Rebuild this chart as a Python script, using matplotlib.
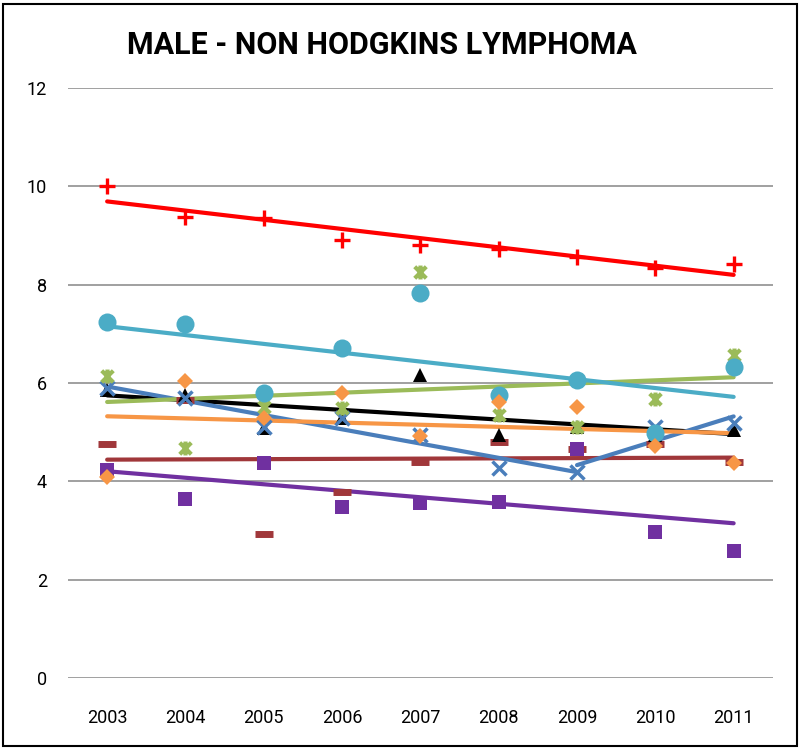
import numpy as np
import matplotlib
matplotlib.use("Agg")
import matplotlib.pyplot as plt
from matplotlib.path import Path
from matplotlib.patches import Rectangle

# ---------------- data ----------------
years = ['2003', '2004', '2005', '2006', '2007', '2008', '2009', '2010', '2011']
red_plus      = [10.00, 9.38, 9.35, 8.90, 8.81, 8.72, 8.56, 8.34, 8.42]
cyan_circle   = [7.24, 7.20, 5.80, 6.71, 7.83, 5.76, 6.06, 4.98, 6.32]
green_star    = [6.14, 4.68, 5.50, 5.49, 8.26, 5.35, 5.11, 5.67, 6.57]
black_tri     = [5.85, 5.75, 5.08, 5.29, 6.16, 4.94, 5.10, 4.95, 5.05]
orange_dia    = [4.09, 6.04, 5.29, 5.79, 4.92, 5.61, 5.51, 4.72, 4.37]
blue_x        = [5.90, 5.69, 5.10, 5.29, 4.95, 4.27, 4.19, 5.10, 5.18]
brown_dash    = [4.76, 5.66, 2.93, 3.78, 4.40, 4.80, 4.66, 4.75, 4.40]
purple_square = [4.23, 3.64, 4.37, 3.48, 3.56, 3.58, 4.66, 2.97, 2.58]
yticks = [0, 2, 4, 6, 8, 10, 12]
title = 'MALE - NON HODGKINS LYMPHOMA'

# asterisk-like marker (X with vertical bar)
star_path = Path([(-1, -1), (1, 1), (-1, 1), (1, -1), (0, -1.2), (0, 1.2)],
                 [Path.MOVETO, Path.LINETO, Path.MOVETO, Path.LINETO,
                  Path.MOVETO, Path.LINETO])

# (values, colour, marker, size, edgewidth, filled, trend segments)
series = [
    (brown_dash,    '#A0373A', '_',       13, 5.0, False, [(0, 9)]),
    (black_tri,     '#000000', '^',       10, 0.0, True,  [(0, 9)]),
    (blue_x,        '#4A7EBB', 'x',       10, 2.5, False, [(0, 7), (6, 9)]),
    (green_star,    '#9BBB59', star_path, 10, 3.0, False, [(0, 9)]),
    (cyan_circle,   '#4BACC6', 'o',       13, 0.0, True,  [(0, 9)]),
    (purple_square, '#7030A0', 's',       9.5, 0.0, True, [(0, 9)]),
    (orange_dia,    '#F79646', 'D',       8.5, 0.0, True, [(0, 9)]),
    (red_plus,      '#FF0000', '+',       11, 2.4, False, [(0, 9)]),
]

fig = plt.figure(figsize=(8, 7.5), dpi=100)
ax = fig.add_axes([0.085, 0.096, 0.881, 0.787])
x = np.arange(len(years))

for vals, col, mk, ms, mew, filled, segs in series:
    v = np.array(vals)
    for a, b in segs:
        xs = x[a:b]
        k, c = np.polyfit(xs, v[a:b], 1)
        ax.plot(xs[[0, -1]], k * xs[[0, -1]] + c, color=col, lw=3.0,
                solid_capstyle='round', zorder=3)

for vals, col, mk, ms, mew, filled, segs in series:
    if filled:
        ax.plot(x, vals, ls='none', marker=mk, ms=ms, color=col,
                markeredgewidth=0, zorder=4)
    else:
        ax.plot(x, vals, ls='none', marker=mk, ms=ms, color=col,
                markeredgewidth=mew, zorder=4)

ax.set_xlim(-0.5, len(years) - 0.5)
ax.set_ylim(0, 12)
ax.set_yticks(yticks)
ax.set_xticks(x)
ax.set_xticklabels(years)
ax.grid(axis='y', color='#999999', lw=1.3)
ax.set_axisbelow(True)
for s in ax.spines.values():
    s.set_visible(False)
ax.tick_params(length=0, labelsize=13)
ax.tick_params(axis='y', pad=15)
ax.tick_params(axis='x', pad=22)
for lab in ax.get_xticklabels() + ax.get_yticklabels():
    lab.set_fontfamily('Roboto')

fig.text(0.478, 0.94, title, ha='center', va='center', fontsize=22,
         fontweight='bold', family='Roboto')
fig.add_artist(Rectangle((0.004, 0.005), 0.992, 0.99, transform=fig.transFigure,
                         fill=False, ec='black', lw=1.5))

fig.savefig('out.png', dpi=100)
